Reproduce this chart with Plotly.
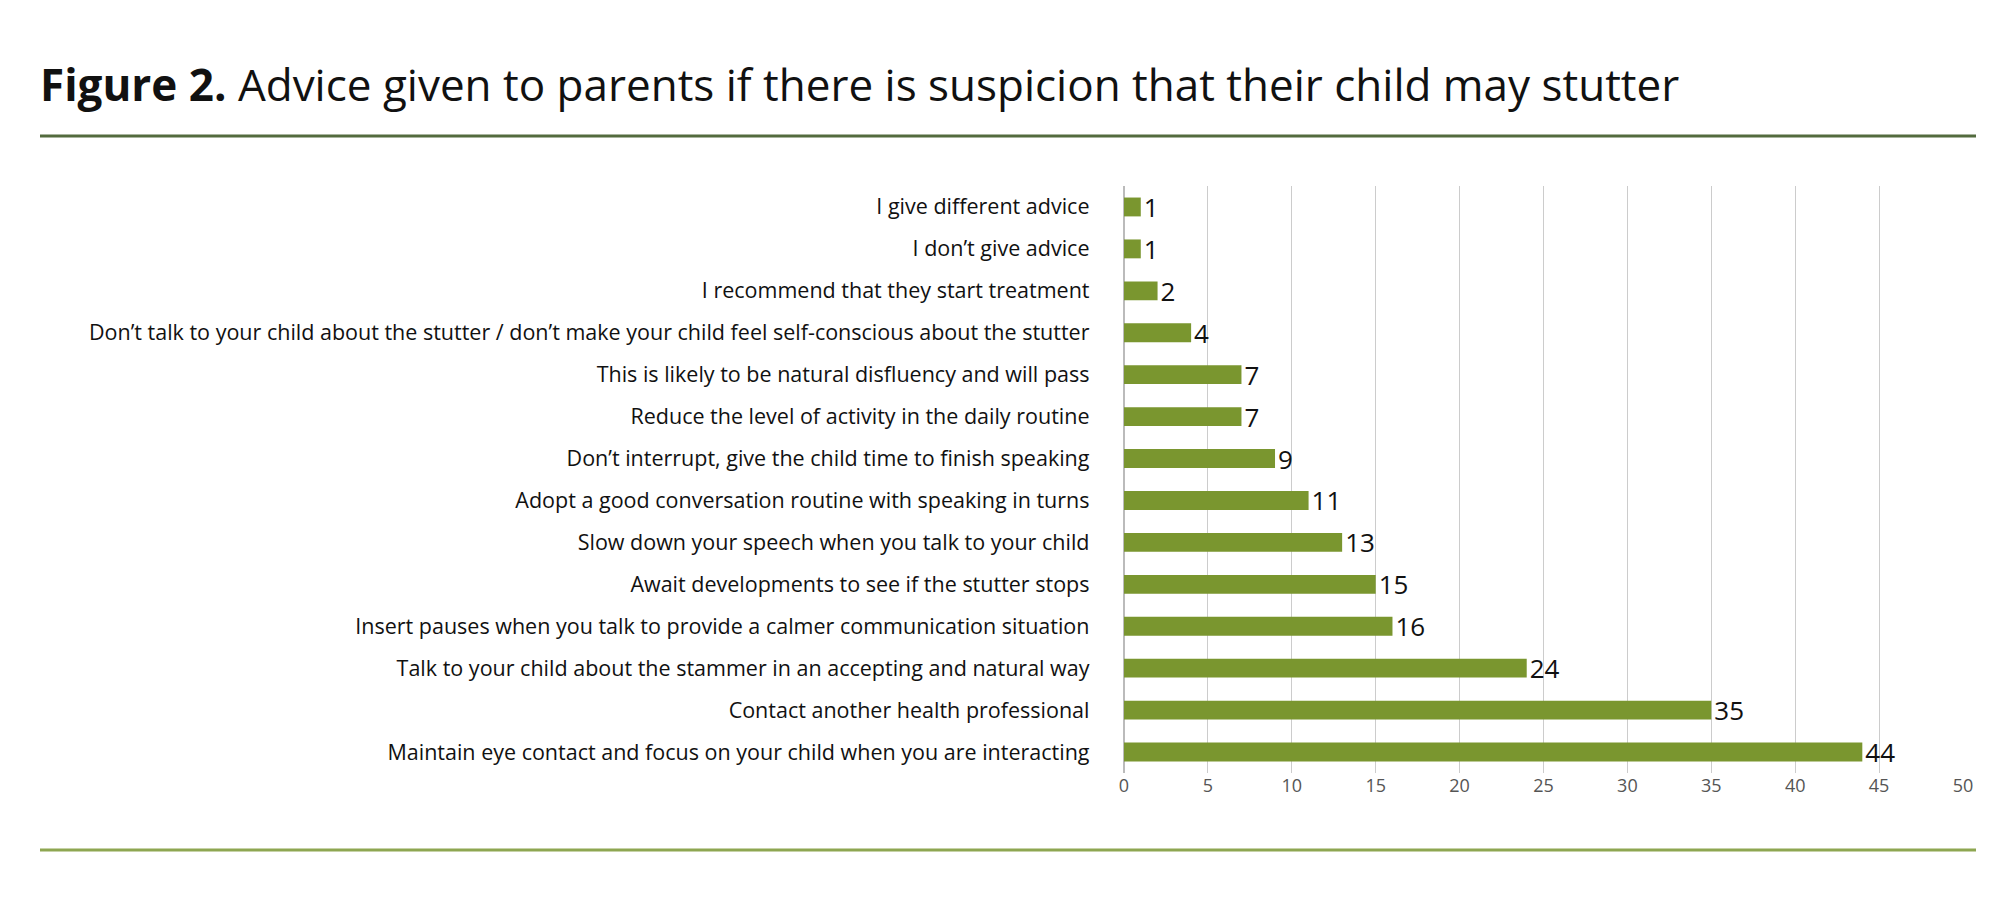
import plotly.graph_objects as go

categories = [
    "Maintain eye contact and focus on your child when you are interacting",
    "Contact another health professional",
    "Talk to your child about the stammer in an accepting and natural way",
    "Insert pauses when you talk to provide a calmer communication situation",
    "Await developments to see if the stutter stops",
    "Slow down your speech when you talk to your child",
    "Adopt a good conversation routine with speaking in turns",
    "Don\u2019t interrupt, give the child time to finish speaking",
    "Reduce the level of activity in the daily routine",
    "This is likely to be natural disfluency and will pass",
    "Don\u2019t talk to your child about the stutter / don\u2019t make your child feel self-conscious about the stutter",
    "I recommend that they start treatment",
    "I don\u2019t give advice",
    "I give different advice",
]
values = [44, 35, 24, 16, 15, 13, 11, 9, 7, 7, 4, 2, 1, 1]
x_ticks = [0, 5, 10, 15, 20, 25, 30, 35, 40, 45, 50]

FONT = "Open Sans, Lato, sans-serif"
L, R, T, B = 1116, 45, 178, 136
PW = 2000 - L - R
PH = 901 - T - B

def px(x):
    return (x - L) / PW

def py(y):
    return (901 - B - y) / PH

fig = go.Figure(go.Bar(
    y=categories, x=values, orientation="h",
    marker=dict(color="#7a962f", line=dict(width=0)),
    width=0.45,
    text=[str(v) for v in values], textposition="outside",
    textfont=dict(size=26, color="#111", family=FONT),
    constraintext="none",
    cliponaxis=False,
))
fig.update_layout(
    width=2000, height=901,
    margin=dict(l=L, r=R, t=T, b=B),
    plot_bgcolor="white", paper_bgcolor="white",
    showlegend=False,
    font=dict(family=FONT, color="#111"),
    xaxis=dict(range=[0, 50], tickvals=x_ticks, showgrid=True, gridcolor="#cccccc",
               gridwidth=1, zeroline=True, zerolinecolor="#bbbbbb",
               tickfont=dict(size=18, color="#555"), ticks="", fixedrange=True),
    yaxis=dict(categoryorder="array", categoryarray=categories,
               tickfont=dict(size=21.5, color="#111"), ticks="", ticklen=0,
               showline=False, automargin=False, ticksuffix="      "),
    bargap=0.55,
    shapes=[
        dict(type="line", xref="paper", yref="paper", x0=px(32), x1=px(1968),
             y0=py(128), y1=py(128), line=dict(color="#536b3e", width=3)),
        dict(type="line", xref="paper", yref="paper", x0=px(32), x1=px(1968),
             y0=py(842), y1=py(842), line=dict(color="#8ea651", width=3)),
    ],
    annotations=[dict(
        text="<b>Figure 2.</b> Advice given to parents if there is suspicion that their child may stutter",
        xref="paper", yref="paper", x=px(30), xanchor="left",
        y=py(76), yanchor="middle", showarrow=False,
        font=dict(size=44, color="#111", family=FONT),
    )],
)
fig.write_html("out.html")
